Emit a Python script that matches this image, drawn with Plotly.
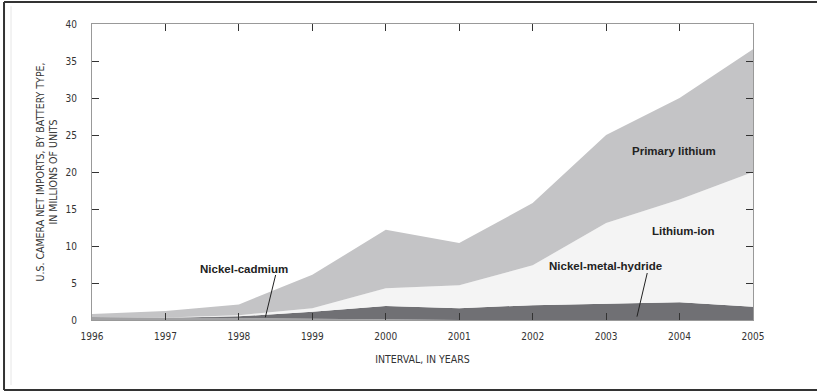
import plotly.graph_objects as go

years = [1996, 1997, 1998, 1999, 2000, 2001, 2002, 2003, 2004, 2005]
nickel_cadmium = [0.4, 0.3, 0.2, 0.1, 0.0, 0.0, 0.0, 0.0, 0.0, 0.0]
nickel_metal_hydride = [0.0, 0.0, 0.3, 1.0, 1.9, 1.6, 2.0, 2.2, 2.4, 1.8]
lithium_ion = [0.0, 0.05, 0.15, 0.5, 2.4, 3.1, 5.4, 10.9, 13.9, 18.2]
primary_lithium = [0.4, 0.85, 1.45, 4.5, 7.9, 5.7, 8.4, 11.9, 13.7, 16.6]

y_ticks = [0, 5, 10, 15, 20, 25, 30, 35, 40]

series = [
    ("Nickel-cadmium", nickel_cadmium, "#a2a2a4"),
    ("Nickel-metal-hydride", nickel_metal_hydride, "#707074"),
    ("Lithium-ion", lithium_ion, "#f4f4f4"),
    ("Primary lithium", primary_lithium, "#c4c4c6"),
]

fig = go.Figure()
for name, vals, col in series:
    fig.add_trace(go.Scatter(
        x=years, y=vals, name=name, mode="lines", stackgroup="one",
        line=dict(width=0, color=col), fillcolor=col, showlegend=False,
        hoverinfo="x+y+name",
    ))

tick_font = dict(family="Liberation Sans Narrow, Arial Narrow, DejaVu Sans Condensed, sans-serif",
                 size=10, color="#333")
title_font = dict(family="Liberation Sans Narrow, Arial Narrow, DejaVu Sans Condensed, sans-serif",
                  size=10.5, color="#333")
label_font = dict(family="Liberation Sans, Arial, sans-serif", size=11.5, color="#222")

fig.update_xaxes(
    range=[1996, 2005], tickvals=years, ticktext=[str(y) for y in years],
    ticks="inside", ticklen=7, tickcolor="#333", tickwidth=1,
    showline=True, linecolor="#999", linewidth=1, mirror="ticks",
    showgrid=False, zeroline=False, tickfont=tick_font, ticklabelstandoff=7,
    title=dict(text="INTERVAL, IN YEARS", font=title_font, standoff=14),
)
fig.update_yaxes(
    range=[0, 40], tickvals=y_ticks,
    ticks="inside", ticklen=7, tickcolor="#333", tickwidth=1,
    showline=True, linecolor="#999", linewidth=1, mirror="ticks",
    showgrid=False, zeroline=False, tickfont=tick_font, ticklabelstandoff=12,
    title=dict(text="U.S. CAMERA NET IMPORTS, BY BATTERY TYPE,<br>IN MILLIONS OF UNITS",
               font=title_font, standoff=5),
)

annots = [
    ("Primary lithium", 2003.92, 22.8),
    ("Lithium-ion", 2004.06, 12.07),
    ("Nickel-metal-hydride", 2002.99, 7.3),
    ("Nickel-cadmium", 1998.07, 6.93),
]
for t, x, y in annots:
    fig.add_annotation(x=x, y=y, text="<b>" + t + "</b>", showarrow=False,
                       font=label_font, xanchor="center", yanchor="middle")

# leader lines
fig.add_shape(type="line", xref="x", yref="y", x0=2003.56, y0=6.35, x1=2003.42, y1=0.45,
              line=dict(color="#222", width=1))
fig.add_shape(type="line", xref="x", yref="y", x0=1998.50, y0=6.08, x1=1998.36, y1=0.36,
              line=dict(color="#222", width=1))

# outer frame lines (page border)
fig.add_shape(type="line", xref="paper", yref="paper", x0=-0.1331, x1=1.1, y0=1.0743, y1=1.0743,
              line=dict(color="#333", width=2))
fig.add_shape(type="line", xref="paper", yref="paper", x0=-0.1331, x1=1.1, y0=-0.2365, y1=-0.2365,
              line=dict(color="#333", width=2))
fig.add_shape(type="line", xref="paper", yref="paper", x0=-0.1331, x1=-0.1331, y0=-0.2365, y1=1.0743,
              line=dict(color="#333", width=2))
fig.add_shape(type="line", xref="paper", yref="paper", x0=-0.1225, x1=-0.1225, y0=-0.22, y1=1.06,
              line=dict(color="#e6e6e6", width=1))

fig.update_layout(
    width=817, height=392,
    margin=dict(l=92, r=64, t=24, b=72),
    plot_bgcolor="white", paper_bgcolor="white",
    showlegend=False,
)

fig.write_html("out.html")
